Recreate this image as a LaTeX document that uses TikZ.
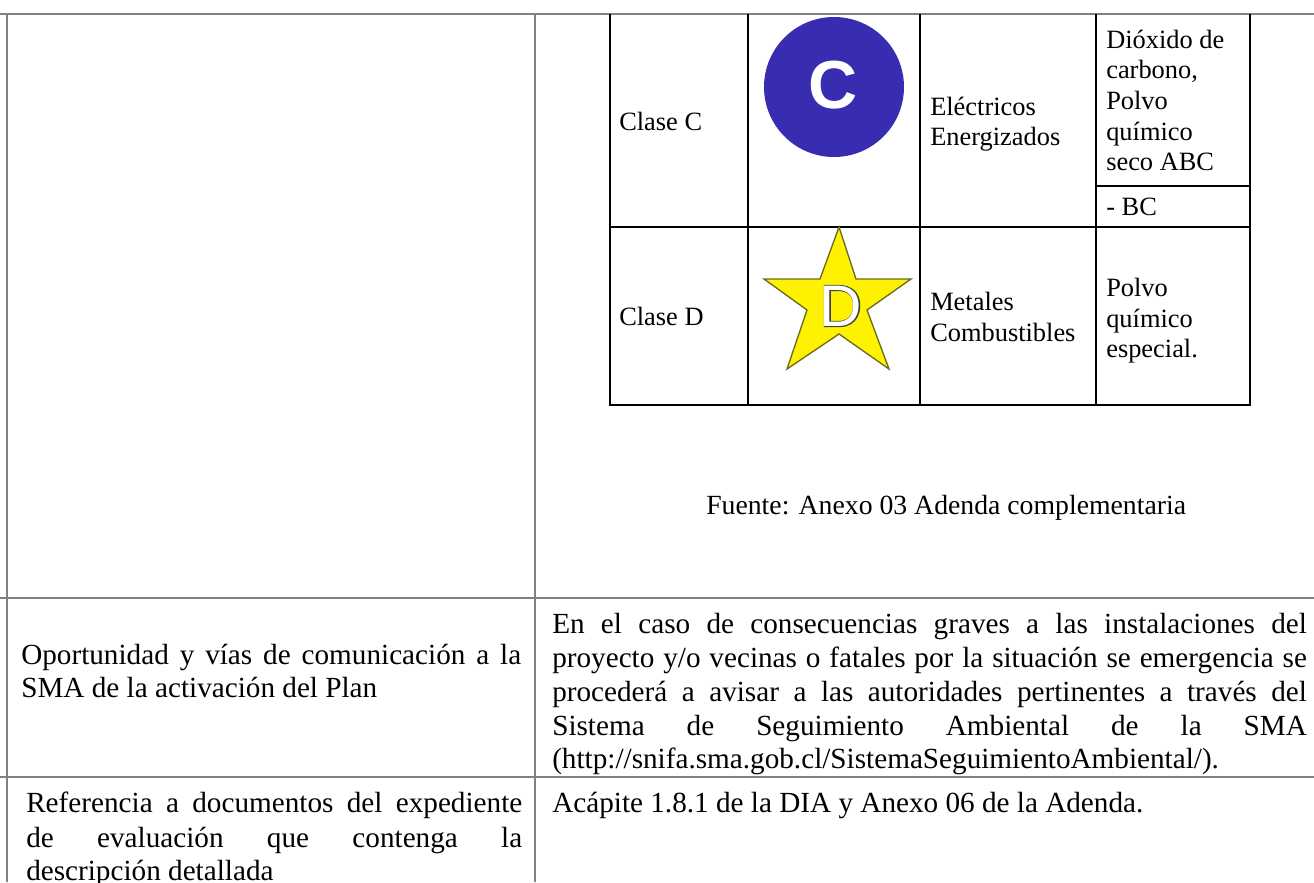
\documentclass[tikz,border=0pt]{standalone}
\usepackage{fontspec}
\setmainfont{Liberation Serif}
\newfontfamily\lsans{Liberation Sans}
\newfontfamily\lsansfat[FakeBold=3]{Liberation Sans}
\newcommand{\fa}{\fontsize{21.9pt}{26pt}\selectfont}
\newcommand{\ff}{\fontsize{20.8pt}{25pt}\selectfont}
\newcommand{\fb}{\fontsize{19.8pt}{23pt}\selectfont}
\newcommand{\jr}[1]{\makebox[566pt][s]{#1}}
\newcommand{\jl}[1]{\makebox[372pt][s]{#1}}
\definecolor{outergray}{HTML}{808080}
\definecolor{cblue}{HTML}{382CB0}
\definecolor{staredge}{HTML}{6B6B20}
\tikzset{
  x=0.75pt,y=-0.75pt,
  outer/.style={line width=1.6pt,draw=outergray},
  inner/.style={line width=1.5pt,draw=black},
  bigt/.style={inner sep=0pt,anchor=base west,font=\fa},
  smallt/.style={inner sep=0pt,anchor=base west,font=\fb},
}
\begin{document}
\begin{tikzpicture}
\useasboundingbox (0,0) rectangle (1314,882);
\fill[white] (0,0) rectangle (1314,882);
% outer table
\draw[outer] (0,14) -- (1314,14);
\draw[outer] (0,598) -- (1314,598);
\draw[outer] (0,777) -- (1314,777);
\draw[outer] (7,14) -- (7,882);
\draw[outer] (535,14) -- (535,882);
% inner table
\draw[inner] (610,14) -- (610,405) -- (1250,405) -- (1250,14);
\draw[inner] (610,227) -- (1250,227);
\draw[inner] (1096,186) -- (1250,186);
\draw[inner] (748,14) -- (748,405);
\draw[inner] (920,14) -- (920,405);
\draw[inner] (1096,14) -- (1096,405);
\node[smallt] (cc) at (619,130) {Clase C};
\node[smallt] (cd) at (619,325) {Clase D};
\node[smallt] (e1) at (930,115) {Eléctricos};
\node[smallt] (e2) at (930,145) {Energizados};
\node[smallt] (m1) at (930,310) {Metales};
\node[smallt] (m2) at (930,341) {Combustibles};
\node[smallt] (d1) at (1106,48) {Dióxido de};
\node[smallt] (d2) at (1106,78) {carbono,};
\node[smallt] (d3) at (1106,109) {Polvo};
\node[smallt] (d4) at (1106,140) {químico};
\node[smallt] (d5) at (1106,170) {seco ABC};
\node[smallt] (d6) at (1106,215) {- BC};
\node[smallt] (p1) at (1106,296) {Polvo};
\node[smallt] (p2) at (1106,327) {químico};
\node[smallt] (p3) at (1106,357) {especial.};
\node[circle,fill=cblue,minimum size=105pt,inner sep=0pt] (cir) at (834,87) {};
\node[text=white,font=\lsans\bfseries\fontsize{51pt}{51pt}\selectfont,inner sep=0pt] (cl) at (833.5,85) {C};
\draw[draw=staredge,fill=yellow,line width=1pt,line join=miter]
  (839,227) -- (856,279) -- (911,279) -- (867,310) -- (889,369) -- (839,334)
  -- (787,369) -- (807,310) -- (764,279) -- (820,279) -- cycle;
\node[font=\lsansfat\fontsize{44pt}{44pt}\selectfont,text=black!75,inner sep=0pt] (sdo) at (841,306) {D};
\node[font=\lsans\fontsize{44pt}{44pt}\selectfont,text=white,inner sep=0pt] (sd) at (841,306) {D};
\node[bigt,font=\ff] (f) at (706,514) {Fuente: Anexo 03 Adenda complementaria};
\node[bigt] (o1) at (21,664) {\makebox[375pt][s]{Oportunidad y vías de comunicación a la}};
\node[bigt] (o2) at (21,697) {SMA de la activación del Plan};
\node[bigt] (a1) at (552,633) {\jr{En el caso de consecuencias graves a las instalaciones del}};
\node[bigt] (a2) at (552,667) {\jr{proyecto y/o vecinas o fatales por la situación se emergencia se}};
\node[bigt] (a3) at (552,701) {\jr{procederá a avisar a las autoridades pertinentes a través del}};
\node[bigt] (a4) at (552,735) {\jr{Sistema de Seguimiento Ambiental de la SMA}};
\node[bigt] (a5) at (552,768) {(http://snifa.sma.gob.cl/SistemaSeguimientoAmbiental/).};
\node[bigt] (b1) at (552,812) {Acápite 1.8.1 de la DIA y Anexo 06 de la Adenda.};
\node[bigt] (c1) at (26,812) {\jl{Referencia a documentos del expediente}};
\node[bigt] (c2) at (26,847) {\jl{de evaluación que contenga la}};
\node[bigt] (c3) at (26,880) {descripción detallada};
\end{tikzpicture}
\end{document}
